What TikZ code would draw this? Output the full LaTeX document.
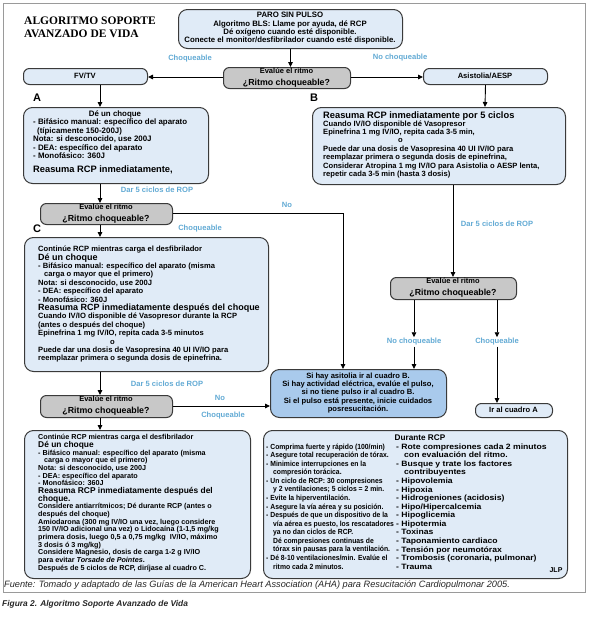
\documentclass[tikz,border=0pt]{standalone}
\usepackage{fontspec}
\setmainfont{Liberation Sans}
\newfontfamily\titlefont{Liberation Serif}
\newfontfamily\durL[FakeStretch=0.92]{Liberation Sans}
\newfontfamily\durR[FakeStretch=1.12]{Liberation Sans}
\usetikzlibrary{arrows.meta}
\lineskiplimit=-30pt
\definecolor{boxblue}{HTML}{E0EBF7}
\definecolor{boxgray}{HTML}{C8C8C8}
\definecolor{boxmid}{HTML}{A9CAEC}
\definecolor{lblue}{HTML}{62AAD4}
\definecolor{edgec}{HTML}{3A3A3A}
\definecolor{framec}{HTML}{9A9A9A}
\newcommand\myBody{\bfseries\fontsize{7.6}{8.4}\selectfont}
\newcommand\myBodyA{\bfseries\fontsize{7.9}{8.4}\selectfont}
\newcommand\myBig{\bfseries\fontsize{9.3}{8.4}\selectfont}
\newcommand\myBigC{\bfseries\fontsize{9.0}{8.4}\selectfont}
\newcommand\myBodyD{\bfseries\fontsize{7.2}{7.65}\selectfont}
\newcommand\myBigD{\bfseries\fontsize{8.4}{7.65}\selectfont}
\newcommand\myDurL{\durL\bfseries\fontsize{7.4}{8.57}\selectfont}
\newcommand\myDurR{\durR\bfseries\fontsize{7.7}{8.57}\selectfont}
\newcommand\myEv{\bfseries\fontsize{7.5}{9.5}\selectfont}
\newcommand\myQ{\bfseries\fontsize{8.8}{9.5}\selectfont}
\begin{document}
\begin{tikzpicture}[x=1pt,y=-1pt,
  bigbox/.style={draw=edgec, line width=1pt, rounded corners=9pt, fill=boxblue, inner sep=0pt, anchor=north west},
  smallbox/.style={draw=edgec, line width=1pt, rounded corners=6pt, fill=boxblue, inner sep=0pt, anchor=north west},
  evbox/.style={draw=edgec, line width=1pt, rounded corners=6pt, fill=boxgray, inner sep=0pt, anchor=north west},
  txt/.style={anchor=north west, align=left, inner sep=0pt, font=\myBody},
  ctxt/.style={align=center, inner sep=0pt, font=\myBody},
  lbl/.style={text=lblue, font=\bfseries\fontsize{7.6}{8}\selectfont, inner sep=1pt},
  letter/.style={font=\bfseries\fontsize{11}{12}\selectfont, inner sep=0pt, anchor=base west},
  arr/.style={-{Triangle[length=5pt,width=4.5pt]}, line width=0.9pt, draw=black},
  ln/.style={line width=0.9pt, draw=black}]
\useasboundingbox (0,0) rectangle (593,643);
\draw[draw=framec, line width=0.8pt] (3,3) rectangle (585,592);

% title
\node[anchor=north west, align=left, inner sep=0pt, font=\titlefont\bfseries\fontsize{11.5}{13}\selectfont] (title) at (24,17) {ALGORITMO SOPORTE\\AVANZADO DE VIDA};

% top
\node[bigbox, minimum width=224pt, minimum height=39pt] (paro) at (178,9) {};
\node[ctxt, font=\bfseries\fontsize{7.8}{8.3}\selectfont] (parot) at (290,28.5) {PARO SIN PULSO\\Algoritmo BLS: Llame por ayuda, dé RCP\\Dé oxígeno cuando esté disponible.\\Conecte el monitor/desfibrilador cuando esté disponible.};
\node[evbox, minimum width=127pt, minimum height=21pt] (ev1) at (223,67) {};
\node[align=center, inner sep=0pt] (ev1t) at (286.5,77.5) {{\myEv Evalúe el ritmo}\\{\myQ ¿Ritmo choqueable?}};
\node[smallbox, minimum width=124pt, minimum height=16pt] (fv) at (23,68) {};
\node[ctxt] (fvt) at (85,76) {FV/TV};
\node[smallbox, minimum width=124pt, minimum height=16pt] (as) at (423,68) {};
\node[ctxt] (ast) at (485,76) {Asistolia/AESP};
\node[lbl] (l1) at (190,59) {Choqueable};
\node[lbl] (l2) at (400,58) {No choqueable};
\draw[arr] (paro.south) -- (paro.south |- ev1.north);
\draw[arr] (ev1.west |- 0,77) -- (fv.east |- 0,77);
\draw[arr] (ev1.east |- 0,77) -- (as.west |- 0,77);
\coordinate (xa) at (100,0);
\draw[arr] (fv.south -| xa) -- (100,107);
\draw[arr] (as.south) -- (485,107);
\node[letter] (la) at (33,101) {A};
\node[letter] (lb) at (310,101) {B};

% box A
\node[bigbox, minimum width=185pt, minimum height=76pt] (ba) at (23,107) {};
\node[font=\myBodyA, anchor=base, inner sep=0pt] (bat) at (115,116) {Dé un choque};
\node[txt, font=\myBodyA] (bab) at (33,119) {- Bifásico manual: específico del aparato\\\hspace*{4pt}(típicamente 150-200J)\\Nota: si desconocido, use 200J\\- DEA: específico del aparato\\- Monofásico: 360J};
\node[font=\myBig, anchor=base west, inner sep=0pt] (bar) at (33,172) {Reasuma RCP inmediatamente,};

% box B
\node[bigbox, minimum width=253pt, minimum height=77pt] (bb) at (312,107) {};
\node[font=\myBig, anchor=base west, inner sep=0pt] (bbr) at (323,118) {Reasuma RCP inmediatamente por 5 ciclos};
\node[txt] (bbt) at (323,120.4) {Cuando IV/IO disponible dé Vasopresor\\Epinefrina 1 mg IV/IO, repita cada 3-5 min,\\\hspace*{75pt}o\\Puede dar una dosis de Vasopresina 40 UI IV/IO para\\reemplazar primera o segunda dosis de epinefrina,\\Considerar Atropina 1 mg IV/IO para Asistolia o AESP lenta,\\repetir cada 3-5 min (hasta 3 dosis)};

% second evaluation (left)
\draw[arr] (ba.south -| xa) -- (100,203);
\node[lbl] (l3) at (157,190) {Dar 5 ciclos de ROP};
\node[evbox, minimum width=132pt, minimum height=21pt] (ev2) at (40,203) {};
\node[align=center, inner sep=0pt] (ev2t) at (106,213.5) {{\myEv Evalúe el ritmo}\\{\myQ ¿Ritmo choqueable?}};
\node[lbl] (l4) at (287,205) {No};
\node[lbl] (l5) at (200,229) {Choqueable};
\node[letter] (lc) at (33,232) {C};
\draw[arr] (ev2.south -| xa) -- (100,237);

% box C
\node[bigbox, minimum width=244pt, minimum height=134pt] (bc) at (24,237) {};
\node[txt] (bct) at (38,246) {Continúe RCP mientras carga el desfibrilador\\{\myBigC Dé un choque}\\- Bifásico manual: específico del aparato (misma\\\hspace*{6pt}carga o mayor que el primero)\\Nota: si desconocido, use 200J\\- DEA: específico del aparato\\- Monofásico: 360J\\{\myBigC Reasuma RCP inmediatamente después del choque}\\Cuando IV/IO disponible dé Vasopresor durante la RCP\\(antes o después del choque)\\Epinefrina 1 mg IV/IO, repita cada 3-5 minutos\\\hspace*{72pt}o\\Puede dar una dosis de Vasopresina 40 UI IV/IO para\\reemplazar primera o segunda dosis de epinefrina.};

% right evaluation
\draw[arr] (bb.south -| 453,0) -- (453,277);
\node[lbl] (l6) at (497,224) {Dar 5 ciclos de ROP};
\node[evbox, minimum width=126pt, minimum height=22pt] (ev3) at (390,277) {};
\node[align=center, inner sep=0pt] (ev3t) at (453,288) {{\myEv Evalúe el ritmo}\\{\myQ ¿Ritmo choqueable?}};
\node[lbl] (l7) at (414,342) {No choqueable};
\node[lbl] (l8) at (497,342) {Choqueable};
\draw[arr] (ev3.south -| l7) -- (l7.north);
\draw[arr] (ev3.south -| l8) -- (l8.north);

% Si hay box
\node[bigbox, fill=boxmid, minimum width=176pt, minimum height=48pt] (sh) at (270,369) {};
\node[ctxt] (sht) at (358,393) {Si hay asitolia ir al cuadro B.\\Si hay actividad eléctrica, evalúe el pulso,\\si no tiene pulso ir al cuadro B.\\Si el pulso está presente, inicie cuidados\\posresucitación.};
\draw[arr] (l7.south) -- (l7.south |- sh.north);
\node[smallbox, minimum width=77pt, minimum height=14pt] (ir) at (475,403) {};
\node[ctxt] (irt) at (513.5,410) {Ir al cuadro A};
\draw[arr] (l8.south) -- (l8.south |- ir.north);

% No from ev2
\draw[arr] (ev2.east |- 0,213) -- (343,213) -- (343,369);

% bottom left evaluation
\draw[arr] (bc.south -| xa) -- (100,395);
\node[lbl] (l9) at (167,384) {Dar 5 ciclos de ROP};
\node[evbox, minimum width=132pt, minimum height=22pt] (ev4) at (40,395) {};
\node[align=center, inner sep=0pt] (ev4t) at (106,406) {{\myEv Evalúe el ritmo}\\{\myQ ¿Ritmo choqueable?}};
\node[lbl] (l10) at (220,398) {No};
\node[lbl] (l11) at (223,416) {Choqueable};
\draw[arr] (ev4.east |- 0,406) -- (sh.west |- 0,406);
\draw[arr] (ev4.south -| xa) -- (100,430);

% box D
\node[bigbox, minimum width=226pt, minimum height=148pt] (bd) at (24,430) {};
\node[txt, font=\myBodyD] (bdt) at (38,434.5) {Continúe RCP mientras carga el desfibrilador\\{\myBigD Dé un choque}\\- Bifásico manual: específico del aparato (misma\\\hspace*{6pt}carga o mayor que el primero)\\Nota: si desconocido, use 200J\\- DEA: específico del aparato\\- Monofásico: 360J\\{\myBigD Reasuma RCP inmediatamente después del}\\{\myBigD choque.}\\Considere antiarrítmicos; Dé durante RCP (antes o\\después del choque)\\Amiodarona (300 mg IV/IO una vez, luego considere\\150 IV/IO adicional una vez) o Lidocaína (1-1,5 mg/kg\\primera dosis, luego 0,5 a 0,75 mg/kg \ IV/IO, máximo\\3 dosis ó 3 mg/kg)\\Considere Magnesio, dosis de carga 1-2 g IV/IO\\para evitar \textit{Torsade de Pointes}.\\Después de 5 ciclos de RCP, diríjase al cuadro C.};

% Durante RCP
\node[bigbox, minimum width=304pt, minimum height=148pt] (du) at (263,430) {};
\node[font=\bfseries\fontsize{8.2}{9}\selectfont, anchor=base, inner sep=0pt] (dut) at (420,440) {Durante RCP};
\node[txt, font=\myDurL] (dul) at (266,443.5) {- Comprima fuerte y rápido (100/min)\\- Asegure total recuperación de tórax.\\- Minimice interrupciones en la\\\hspace*{7pt}compresión torácica.\\- Un ciclo de RCP: 30 compresiones\\\hspace*{7pt}y 2 ventilaciones; 5 ciclos = 2 min.\\- Evite la hiperventilación.\\- Asegure la vía aérea y su posición.\\- Después de que un dispositivo de la\\\hspace*{7pt}vía aérea es puesto, los rescatadores\\\hspace*{7pt}ya no dan ciclos de RCP.\\\hspace*{7pt}Dé compresiones continuas de\\\hspace*{7pt}tórax sin pausas para la ventilación.\\- Dé 8-10 ventilaciones/min. Evalúe el\\\hspace*{7pt}ritmo cada 2 minutos.};
\node[txt, font=\myDurR] (dur) at (396,443.5) {- Rote compresiones cada 2 minutos\\\hspace*{8pt}con evaluación del ritmo.\\- Busque y trate los factores\\\hspace*{8pt}contribuyentes\\- Hipovolemia\\- Hipoxia\\- Hidrogeniones (acidosis)\\- Hipo/Hipercalcemia\\- Hipoglicemia\\- Hipotermia\\- Toxinas\\- Taponamiento cardiaco\\- Tensión por neumotórax\\- Trombosis (coronaria, pulmonar)\\- Trauma};
\node[font=\bfseries\fontsize{7}{8}\selectfont, anchor=base, inner sep=0pt] (jlp) at (556,572) {JLP};

% captions
\node[anchor=base west, inner sep=0pt, font=\itshape\fontsize{9.2}{10}\selectfont, text=black!85] (fuente) at (4,587) {Fuente: Tomado y adaptado de las Guías de la American Heart Association (AHA) para Resucitación Cardiopulmonar 2005.};
\node[anchor=base west, inner sep=0pt, font=\bfseries\itshape\fontsize{8.4}{10}\selectfont, text=black!85] (figura) at (2,606) {Figura 2. Algoritmo Soporte Avanzado de Vida};
\end{tikzpicture}
\end{document}
